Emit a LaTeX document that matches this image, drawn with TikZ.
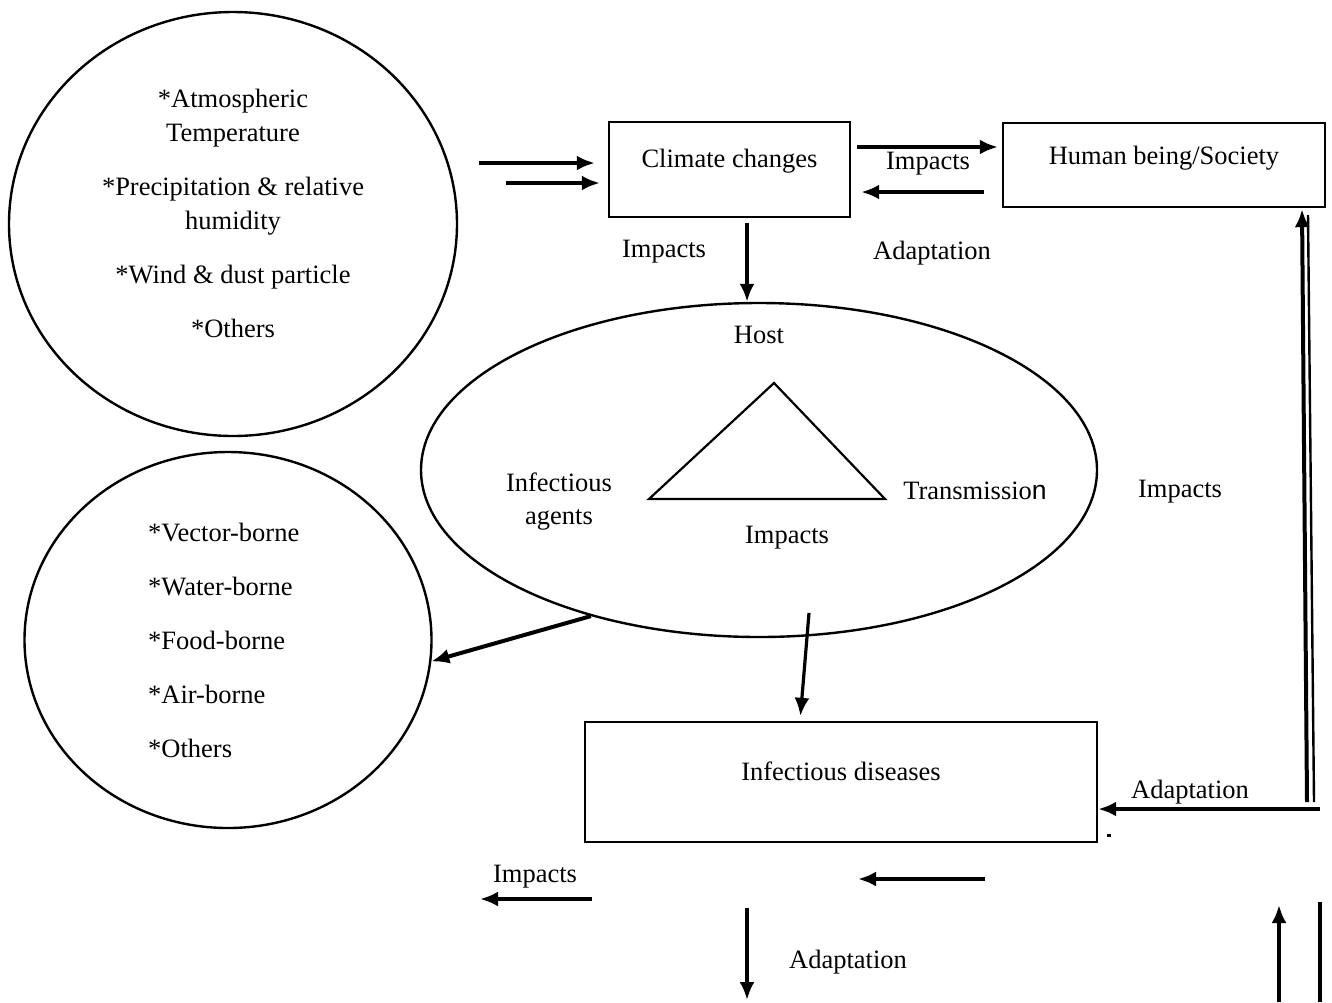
\documentclass[tikz,border=0pt]{standalone}
\usepackage{fontspec}
\setmainfont{Liberation Serif}
\setsansfont{Liberation Sans}
\usetikzlibrary{arrows.meta, shapes.geometric}

\begin{document}
\begin{tikzpicture}[x=1pt, y=-1pt, inner sep=0pt, font=\fontsize{26.5}{33}\selectfont,
		arr/.style={-{Latex[length=18pt,width=15pt]}, line width=4pt},
		box/.style={draw, rectangle, line width=2.4pt, inner sep=0pt},
		blob/.style={draw, ellipse, line width=2.4pt, inner sep=0pt}]
			\useasboundingbox (0,0) rectangle (1332,1002);
			
			\node[blob, minimum width=448pt, minimum height=424pt] (weather) at (233,224) {};
			\node[blob, minimum width=407pt, minimum height=376pt] (routes) at (228,640) {};
			\node[blob, minimum width=676pt, minimum height=334pt] (triad) at (759,470) {};
			
			\node[align=center, font=\fontsize{26.5}{34}\selectfont] (weather_txt) at (233,213) {*Atmospheric\\Temperature\\[20pt]*Precipitation \& relative\\humidity\\[20pt]*Wind \& dust particle\\[20pt]*Others};
			\node[align=left, anchor=west, font=\fontsize{26.5}{54}\selectfont] (routes_txt) at (148,640) {*Vector-borne\\{}*Water-borne\\{}*Food-borne\\{}*Air-borne\\{}*Others};
			
			\node[box, minimum width=241pt, text height=45pt, text depth=50pt] (climate) at (729.5,169.5) {Climate changes};
			\node[box, minimum width=322pt, text height=41pt, text depth=43pt] (human) at (1164,165) {Human being/Society};
			\node[box, minimum width=512pt, text height=58pt, text depth=62pt] (diseases) at (841,782) {Infectious diseases};
			
			\node (host) at (759,335) {Host};
			\node[align=center] (agents) at (559,502) {Infectious\\agents};
			\node (trans) at (975,491) {Transmissio{\sffamily n}};
			\node (imp_tri) at (787,538) {Impacts};
			
			\coordinate (tri_l) at (649,499);
			\coordinate (tri_t) at (774,383);
			\coordinate (tri_r) at (885,499);
			\draw[line width=2.2pt] (tri_l) -- (tri_t) -- (tri_r) -- cycle;
			
			\node (imp_a) at (928,164) {Impacts};
			\node (adapt_a) at (932,253) {Adaptation};
			\node (imp_b) at (664,252) {Impacts};
			\node (imp_c) at (1180,492) {Impacts};
			\node (adapt_b) at (1190,792) {Adaptation};
			\node (imp_d) at (535,877) {Impacts};
			\node (adapt_c) at (848,962) {Adaptation};
			\node[fill, minimum width=4pt, minimum height=3pt] (dot) at (1109,835) {};
			
			\coordinate (in_a) at (479,163);
			\coordinate (in_b) at (506,183);
			\coordinate (tri_out) at (809,613);
			\coordinate (adapt_out) at (1320,809);
			\coordinate (up_a) at (1307,802);
			\coordinate (up_b) at (1314,802);
			\coordinate (up_b_top) at (1308,215);
			
			\draw[arr, shorten >=13pt] (in_a) -- ([yshift=6.5pt]climate.west);
			\draw[arr, shorten >=8pt] (in_b) -- ([yshift=-13.5pt]climate.west);
			\draw[arr, shorten <=6pt, shorten >=4pt] ([yshift=22.5pt]climate.east) -- ([yshift=18pt]human.west);
			\draw[arr, shorten <=18pt, shorten >=10pt] ([yshift=-27pt]human.west) -- ([yshift=-22.5pt]climate.east);
			\draw[arr, shorten <=5pt] ([xshift=17.5pt]climate.south) -- ([xshift=-12pt]triad.north);
			\draw[arr] (triad.221) -- (routes.-6);
			\draw[arr, line width=3.2pt, shorten >=5pt] (tri_out) -- ([xshift=-41pt]diseases.north);
			\draw[arr] (adapt_out) -- ([yshift=-27pt]diseases.east);
			\draw[arr, shorten >=1pt] (up_a) -- ([xshift=138pt]human.south);
			\draw[line width=2.4pt] (up_b) -- (up_b_top);
			
			\coordinate (b_imp_s) at (592,899);
			\coordinate (b_imp_e) at (480,899);
			\coordinate (b_mid_s) at (985,879);
			\coordinate (b_mid_e) at (858,879);
			\coordinate (b_dn_s) at (747,908);
			\coordinate (b_dn_e) at (747,1000);
			\coordinate (b_up_s) at (1279,1002);
			\coordinate (b_up_e) at (1279,905);
			\coordinate (b_ln_s) at (1320,1002);
			\coordinate (b_ln_e) at (1320,902);
			
			\draw[arr] (b_imp_s) -- (b_imp_e);
			\draw[arr] (b_mid_s) -- (b_mid_e);
			\draw[arr] (b_dn_s) -- (b_dn_e);
			\draw[arr] (b_up_s) -- (b_up_e);
			\draw[line width=4pt] (b_ln_s) -- (b_ln_e);
		\end{tikzpicture}
\end{document}
